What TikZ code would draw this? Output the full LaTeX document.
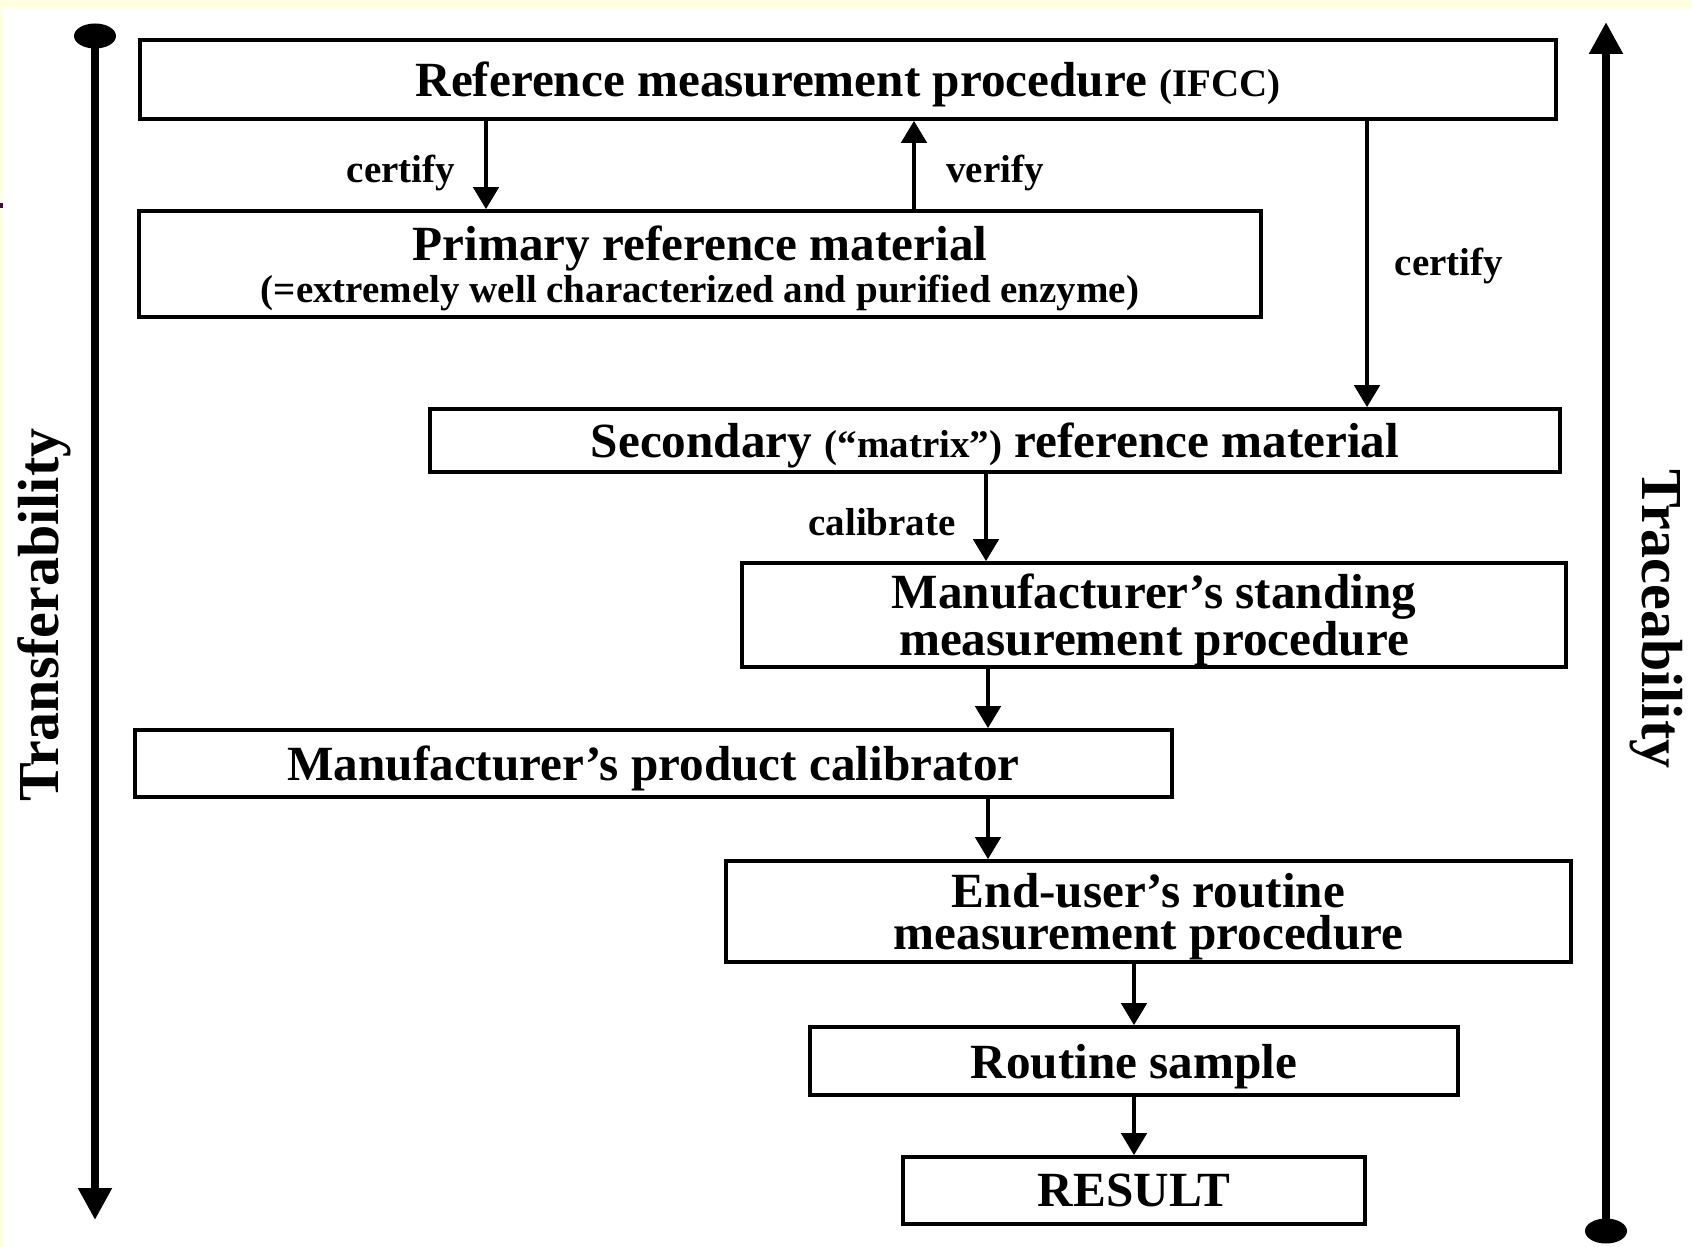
\documentclass[tikz,border=0pt]{standalone}
\usepackage{fontspec}
\setmainfont{Liberation Serif}
\usepackage{tikz}
\usetikzlibrary{arrows.meta,shapes}

\definecolor{paper}{RGB}{255,255,226}
\definecolor{stray}{RGB}{70,10,70}

\begin{document}
\begin{tikzpicture}
[x=0.5pt,y=-0.5pt]
\tikzset{
	box/.style = {draw, line width=1.8pt, inner sep=0, align=center, text depth=0pt, font=\bfseries\fontsize{24.6}{21}\selectfont},
	small/.style = {text depth=0pt, font=\bfseries\fontsize{19.5}{22}\selectfont},
	link/.style = {line width=2.2pt, -{Triangle[width=12.5pt,length=11pt]}},
	axis/.style = {line width=4pt, -{Triangle[width=16pt,length=16pt]}},
	side/.style = {font=\bfseries\fontsize{29}{32}\selectfont}
}

\fill[paper] (0,0) rectangle (1692,1247);
\fill[white] (3,8) rectangle (1692,1247);
\fill[stray] (0,203) rectangle (3,208);
\useasboundingbox (0,0) rectangle (1692,1247);

\node(ref) [box, minimum width=708pt, minimum height=39.5pt] at (848,79.5)
	{Reference measurement procedure {\fontsize{19.5}{21}\selectfont(IFCC)}};
\node(prim) [box, minimum width=561pt, minimum height=53pt] at (700,264)
	{Primary reference material\\{\fontsize{19.5}{21}\selectfont(=extremely well characterized and purified enzyme)}};
\node(sec) [box, minimum width=565pt, minimum height=31.5pt] at (995,440.5)
	{Secondary {\fontsize{19.5}{21}\selectfont(“matrix”)} reference material};
\node(std) [box, minimum width=412pt, minimum height=52pt] at (1154,615)
	{Manufacturer’s standing\\measurement procedure};
\node(cal) [box, minimum width=518.5pt, minimum height=33.5pt] at (653.5,763.5)
	{Manufacturer’s product calibrator};
\node(user) [box, minimum width=422.5pt, minimum height=50.5pt] at (1148.5,911.5)
	{End-user’s routine\\measurement procedure};
\node(smp) [box, minimum width=324pt, minimum height=34pt] at (1134,1061) {Routine sample};
\node(res) [box, minimum width=231pt, minimum height=33.5pt] at (1134,1190.5) {RESULT};

\node(lcert) [small] at (401,169) {certify};
\node(lver) [small] at (995,169) {verify};
\node(rcert) [small] at (1449,262) {certify};
\node(lcal) [small] at (882,522) {calibrate};

\node(tf) [side, rotate=90] at (44,615) {Transferability};
\node(tr) [side, rotate=-90] at (1656,619) {Traceability};

\coordinate (tfTop) at (95,36);
\coordinate (tfEnd) at (95,1220);
\coordinate (trBot) at (1606,1231);
\coordinate (trEnd) at (1606,22);

\draw[axis] (tfTop) -- (tfEnd);
\fill (tfTop) ellipse (10.5pt and 6.25pt);
\draw[axis] (trBot) -- (trEnd);
\fill (trBot) ellipse (10.5pt and 6.25pt);

\draw[link] (ref.south -| 486,0) -- (prim.north -| 486,0);
\draw[link] (prim.north -| 914,0) -- (ref.south -| 914,0);
\draw[link] (ref.south -| 1367,0) -- (sec.north -| 1367,0);
\draw[link] (sec.south -| 986,0) -- (std.north -| 986,0);
\draw[link] (std.south -| 988,0) -- (cal.north -| 988,0);
\draw[link] (cal.south -| 988,0) -- (user.north -| 988,0);
\draw[link] (user.south -| smp.north) -- (smp.north);
\draw[link] (smp.south) -- (res.north);
\end{tikzpicture}
\end{document}
